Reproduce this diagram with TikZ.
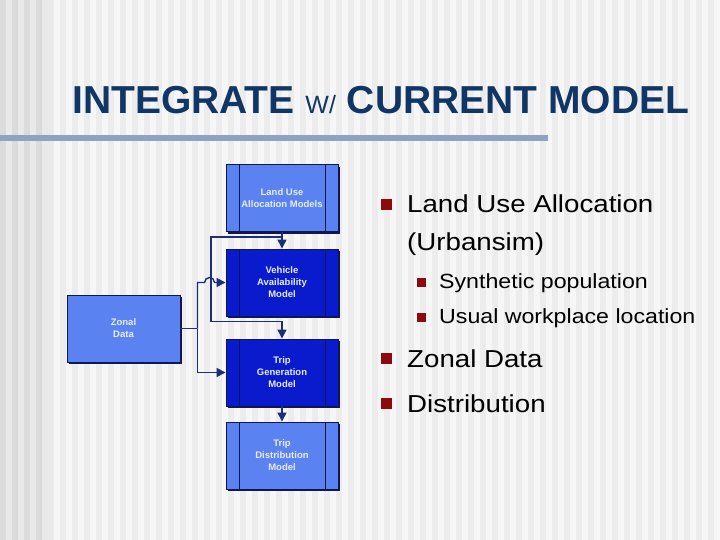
\documentclass[tikz,border=0pt]{standalone}
\usepackage{fontspec}
\setmainfont{Liberation Sans}
\newfontfamily\widefont[FakeStretch=1.13]{Liberation Sans}
\usepackage{xcolor}
\usepackage{tikz}
\usetikzlibrary{positioning, arrows.meta, calc, shadows}

\definecolor{titleblue}{RGB}{16,54,102}
\definecolor{rulegray}{RGB}{141,163,193}
\definecolor{bgright}{RGB}{246,246,246}
\definecolor{bgstripe}{RGB}{236,236,236}
\definecolor{bgleft}{RGB}{233,233,233}
\definecolor{bgleftstripe}{RGB}{219,219,219}
\definecolor{boxlight}{RGB}{90,130,240}
\definecolor{boxdark}{RGB}{10,26,205}
\definecolor{boxline}{RGB}{16,22,78}
\definecolor{linkblue}{RGB}{30,45,120}
\definecolor{bulletred}{RGB}{140,10,15}
\definecolor{labelwhite}{RGB}{232,238,255}

\tikzset{
  model/.style={draw=boxline, line width=0.9, fill=boxlight, minimum width=112, minimum height=67,
    inner sep=0, align=center, text=labelwhite, font=\fontsize{9.5}{12}\selectfont\bfseries,
    drop shadow={shadow xshift=2.2pt, shadow yshift=-2.2pt, fill=boxline, opacity=1}},
  framed/.style={model, path picture={
    \draw[boxline, line width=0.9] ($(path picture bounding box.north west)+(13pt,0)$) -- ($(path picture bounding box.south west)+(13pt,0)$);
    \draw[boxline, line width=0.9] ($(path picture bounding box.north east)+(-13pt,0)$) -- ($(path picture bounding box.south east)+(-13pt,0)$);}},
  wire/.style={draw=linkblue, line width=1.4},
  link/.style={wire, -{Triangle[length=9pt, width=9pt]}},
  bullet/.style={fill=bulletred, inner sep=0, minimum size=11},
  subbullet/.style={fill=bulletred, inner sep=0, minimum size=9},
  item/.style={anchor=base west, inner sep=0, font=\widefont\fontsize{24.5}{30}\selectfont},
  subitem/.style={anchor=base west, inner sep=0, font=\widefont\fontsize{20.5}{24}\selectfont}
}

\begin{document}
\begin{tikzpicture}[x=1pt, y=-1pt]
        \useasboundingbox (0,0) rectangle (720,540);

        % Background stripes
        \fill[bgright] (0,0) rectangle (720,540);
        \foreach \x in {0,12,...,708} \fill[bgstripe] (\x,0) rectangle ++(6,540);
        \fill[bgleft] (0,0) rectangle (53,540);
        \foreach \x in {0,12,...,42} \fill[bgleftstripe] (\x,0) rectangle ++(6,540);

        % Title
        \node[anchor=base west, inner sep=0, text=titleblue, font=\fontsize{39}{39}\selectfont\bfseries] (title) at (72,114)
          {INTEGRATE {\fontsize{25}{25}\selectfont\mdseries W/} CURRENT MODEL};
        \fill[rulegray] (0,135) rectangle (548,141);

        % Model boxes
        \node[framed] (landuse) at (282,198) {Land Use\\Allocation Models};
        \node[framed, fill=boxdark] (vehicle) at (282,282.5) {Vehicle\\Availability\\Model};
        \node[model, minimum width=113] (zonal) at (123.5,328.5) {Zonal\\Data};
        \node[framed, fill=boxdark] (tripgen) at (282,372.5) {Trip\\Generation\\Model};
        \node[framed] (tripdist) at (282,455.5) {Trip\\Distribution\\Model};

        % Connectors
        \draw[link] (landuse) -- (vehicle);
        \coordinate (lubranch) at ($(landuse.south)+(0,5)$);
        \draw[link] (lubranch) -- ++(-71,0) |- ($(tripgen.north)+(0,-17)$) -- (tripgen.north);
        \coordinate (zjoin) at ($(zonal.east)+(17,0)$);
        \draw[wire] (zonal.east) -- (zjoin);
        \draw[link] (zjoin) |- ($(vehicle.west)+(-21,0)$) arc[start angle=180, end angle=360, radius=5] -- (vehicle.west);
        \draw[link] (zjoin) |- (tripgen.west);
        \draw[link] (tripgen) -- (tripdist);

        % Bullet list
        \node[bullet] (b1) at (386.5,205) {};
        \node[item] (lua) at (407,213) {Land Use Allocation};
        \node[item] (urb) at ($(lua.base west)+(0,37)$) {(Urbansim)};
        \node[subbullet] (s1) at (421,282.5) {};
        \node[subitem] (syn) at (439,288) {Synthetic population};
        \node[subbullet] (s2) at (421,317.5) {};
        \node[subitem] (usu) at (439,323) {Usual workplace location};
        \node[bullet] (b2) at (386.5,358.5) {};
        \node[item] (zon) at (407,367) {Zonal Data};
        \node[bullet] (b3) at (386.5,403.5) {};
        \node[item] (dis) at (407,412) {Distribution};
    \end{tikzpicture}
\end{document}
